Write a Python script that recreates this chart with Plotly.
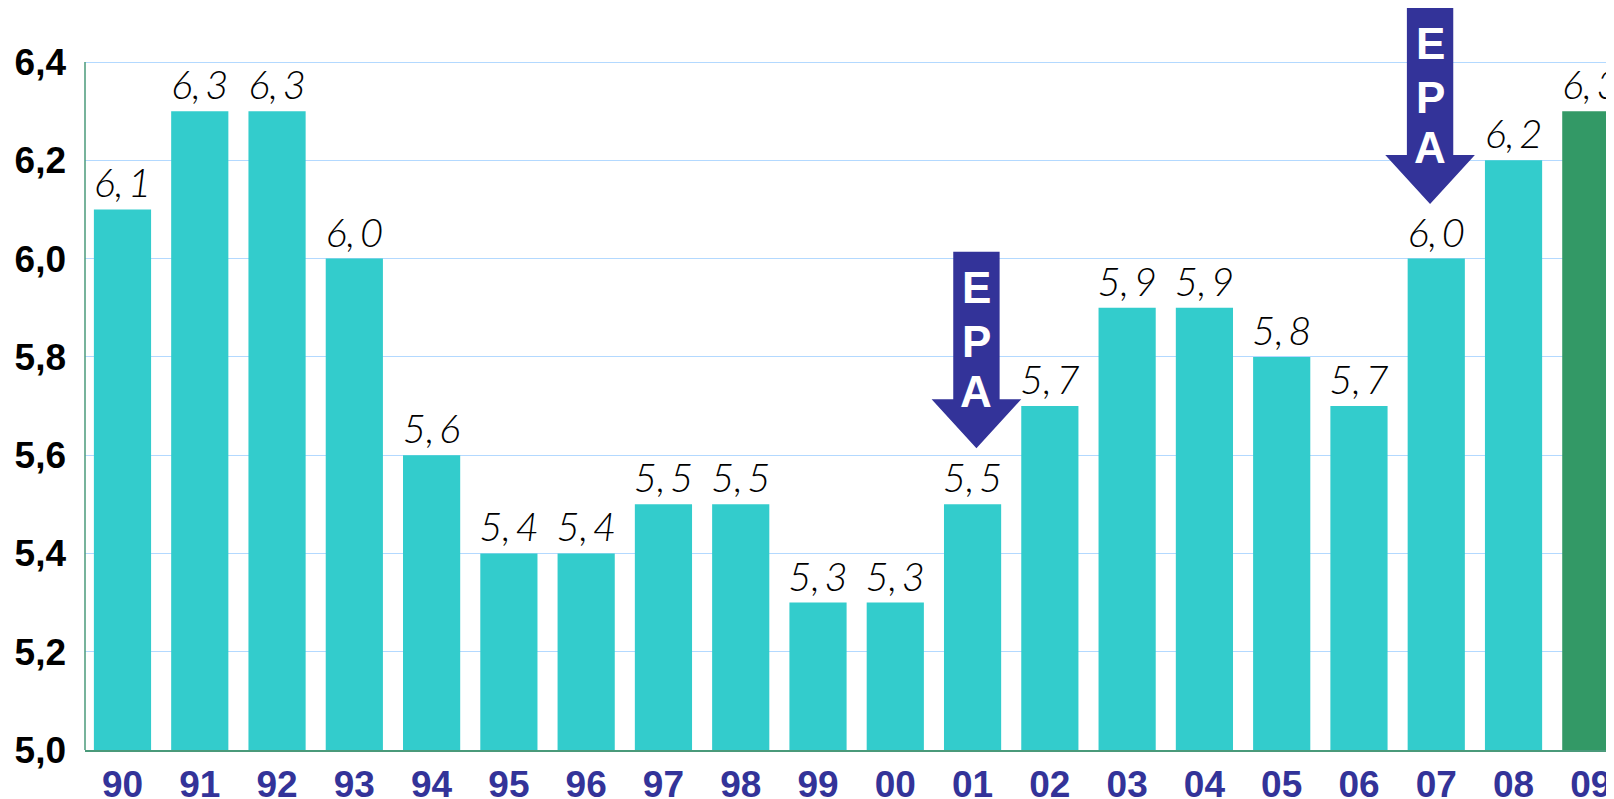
import plotly.graph_objects as go

# -----------------------------
# data
# -----------------------------
years = ["90", "91", "92", "93", "94", "95", "96", "97", "98", "99",
         "00", "01", "02", "03", "04", "05", "06", "07", "08", "09"]
values = [6.1, 6.3, 6.3, 6.0, 5.6, 5.4, 5.4, 5.5, 5.5, 5.3,
          5.3, 5.5, 5.7, 5.9, 5.9, 5.8, 5.7, 6.0, 6.2, 6.3]
y_ticks = [5.0, 5.2, 5.4, 5.6, 5.8, 6.0, 6.2, 6.4]

# EPA arrows: x position (category index) and tip value
epa_x = [11.05, 16.92]
epa_tip = [5.614, 6.111]
epa_letters = ["E", "P", "A"]

TEAL = "#33CCCC"
GREEN = "#339966"
NAVY = "#333399"

x_idx = list(range(len(years)))
bar_colors = [TEAL] * (len(years) - 1) + [GREEN]
labels = [f"{v:.1f}".replace(".", ",\u2009") for v in values]

fig = go.Figure()
fig.add_trace(go.Bar(
    x=x_idx,
    y=[v - 5.0 for v in values],
    base=5.0,
    marker_color=bar_colors,
    marker_line_width=0,
    width=0.74,
    text=labels,
    textposition="outside",
    cliponaxis=False,
    constraintext="none",
    textfont=dict(family="Lato", size=40, color="black", style="italic", weight=300),
    hoverinfo="skip",
))

# arrows, built around each tip
shaft_w, head_w = 0.30, 0.58
head_h, shaft_h = 0.10, 0.40
for ax_, tip in zip(epa_x, epa_tip):
    base = tip + head_h
    top = tip + shaft_h
    path = (f"M {ax_-shaft_w},{top} L {ax_+shaft_w},{top} L {ax_+shaft_w},{base} "
            f"L {ax_+head_w},{base} L {ax_},{tip} L {ax_-head_w},{base} "
            f"L {ax_-shaft_w},{base} Z")
    fig.add_shape(type="path", path=path, xref="x", yref="y",
                  fillcolor=NAVY, line=dict(width=0), layer="above")
    for letter, off in zip(epa_letters, [0.327, 0.217, 0.116]):
        fig.add_annotation(x=ax_, y=tip + off, xref="x", yref="y", text=letter,
                           showarrow=False,
                           font=dict(family="Liberation Sans", size=44,
                                     color="white", weight="bold"))

# left axis line only up to 6,4
fig.add_shape(type="line", xref="x domain", yref="y", x0=0, x1=0, y0=5.0, y1=6.4,
              line=dict(color="#4a9a7a", width=1.5))

# page body has an 8px margin, so the figure is a bit smaller than the window
fig.update_layout(
    width=1606, height=791,
    margin=dict(l=77, r=0, t=0, b=49),
    plot_bgcolor="white", paper_bgcolor="white",
    separators=",.",
    showlegend=False,
)
fig.update_xaxes(
    automargin=False,
    range=[-0.485, 19.3],
    tickmode="array", tickvals=x_idx, ticktext=years,
    tickfont=dict(family="Liberation Sans", size=37, color=NAVY, weight="bold"),
    showgrid=False, zeroline=False,
    showline=True, linecolor="#4a9a7a", linewidth=2,
    ticks="", ticklabelstandoff=1,
)
fig.update_yaxes(
    automargin=False,
    range=[5.0, 6.51],
    tickmode="array", tickvals=y_ticks, tickformat=".1f",
    tickfont=dict(family="Liberation Sans", size=37, color="black", weight="bold"),
    showgrid=True, gridcolor="#b3d9ff", gridwidth=1,
    zeroline=False, showline=False,
    ticks="", ticklabelstandoff=18,
)

fig.write_html("out.html")
